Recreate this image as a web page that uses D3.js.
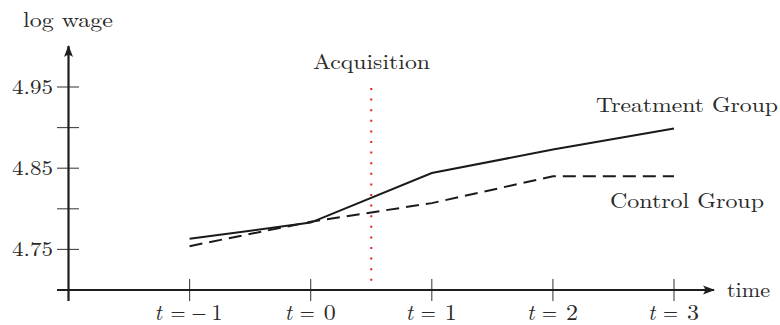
<!DOCTYPE html>
<html><head><meta charset="utf-8">
<script src="https://cdn.jsdelivr.net/npm/d3@7"></script>
<style>
html,body{margin:0;padding:0;background:#fff;}
</style></head>
<body><svg id="c" width="780" height="325"></svg>
<script>
const periods = [-1, 0, 1, 2, 3];
const periodLabels = ["\u22121", "0", "1", "2", "3"];
const treatment = [4.763, 4.783, 4.844, 4.873, 4.899];
const control = [4.754, 4.784, 4.807, 4.840, 4.840];
const yTicksMajor = [4.75, 4.85, 4.95];
const yTicksMinor = [4.80, 4.90];
const eventTime = 0.5;

const FONT = "'Latin Modern Roman','CMU Serif','Liberation Serif','DejaVu Serif',serif";
const svg = d3.select("#c");
const x = d3.scaleLinear().domain([-2, 3]).range([68.5, 674]);
const y = d3.scaleLinear().domain([4.70, 4.95]).range([290, 87]);
const axisCol = "#1e1e1e";
const txtCol = "#2a2a2a";

const defs = svg.append("defs");
defs.append("marker").attr("id","arr").attr("viewBox","0 0 12 10")
  .attr("refX",11).attr("refY",5).attr("markerWidth",12).attr("markerHeight",10)
  .attr("markerUnits","userSpaceOnUse").attr("orient","auto")
  .append("path").attr("d","M0,0.5 Q4,5 0,9.5 L12,5 Z").attr("fill",axisCol);

// tick marks
const tickCol = "#444";
svg.append("g").selectAll("line").data(yTicksMajor.concat(yTicksMinor)).join("line")
  .attr("x1", 57).attr("x2", 79).attr("y1", d => y(d)).attr("y2", d => y(d))
  .attr("stroke", tickCol).attr("stroke-width", 1.1);
svg.append("line").attr("x1",57).attr("x2",68).attr("y1",y(4.70)).attr("y2",y(4.70))
  .attr("stroke",tickCol).attr("stroke-width",1.1);
svg.append("g").selectAll("line").data(periods).join("line")
  .attr("x1", d => x(d)).attr("x2", d => x(d)).attr("y1", 279).attr("y2", 301)
  .attr("stroke", tickCol).attr("stroke-width", 1.1);
svg.append("line").attr("x1",x(-2)).attr("x2",x(-2)).attr("y1",290).attr("y2",301)
  .attr("stroke",tickCol).attr("stroke-width",1.1);

// axes
svg.append("line").attr("x1", 57).attr("x2", 714).attr("y1", y(4.70)).attr("y2", y(4.70))
  .attr("stroke", axisCol).attr("stroke-width", 2.2).attr("marker-end","url(#arr)");
svg.append("line").attr("x1", x(-2)).attr("x2", x(-2)).attr("y1", 301).attr("y2", 46)
  .attr("stroke", axisCol).attr("stroke-width", 2.2).attr("marker-end","url(#arr)");

// event line
svg.append("line").attr("x1", x(eventTime)).attr("x2", x(eventTime))
  .attr("y1", 88).attr("y2", 289)
  .attr("stroke", "#ee1c24").attr("stroke-width", 2).attr("stroke-dasharray","2,8.6");

const line = d3.line().x((d,i) => x(periods[i])).y(d => y(d));
svg.append("path").datum(control).attr("d", line).attr("fill","none")
  .attr("stroke","#1a1a1a").attr("stroke-width",2).attr("stroke-dasharray","13,7");
svg.append("path").datum(treatment).attr("d", line).attr("fill","none")
  .attr("stroke","#1a1a1a").attr("stroke-width",2);

function label(xp, yp, txt, w, anchor) {
  const t = svg.append("text").attr("x", xp).attr("y", yp)
    .attr("font-family", FONT).attr("font-size", 21).attr("fill", txtCol)
    .attr("text-anchor", anchor || "start").text(txt);
  if (w) t.attr("textLength", w).attr("lengthAdjust", "spacingAndGlyphs");
  return t;
}

// y labels
yTicksMajor.forEach(d => label(53, y(d) + 6.5, d.toFixed(2), 41, "end"));

// x labels: "t = n" built from pieces
const xg = svg.append("g").selectAll("g").data(periods).join("g")
  .attr("transform", d => `translate(${x(d)},319.5)`);
xg.each(function(d, i) {
  const g = d3.select(this);
  const neg = periodLabels[i].startsWith("\u2212");
  const pieces = neg
    ? [{s:"t", x0:-35, it:true}, {s:"=", x0:-19, w:15}, {s:"\u2212", x0:2, w:15}, {s:periodLabels[i].slice(1), x0:22, w:11}]
    : [{s:"t", x0:-26, it:true}, {s:"=", x0:-11, w:15}, {s:periodLabels[i], x0:13, w:12}];
  pieces.forEach(p => {
    const t = g.append("text").attr("x", p.x0).attr("y", 0)
      .attr("font-family", FONT).attr("font-size", 22).attr("fill", txtCol)
      .attr("font-style", p.it ? "italic" : "normal").text(p.s);
    if (p.w) t.attr("textLength", p.w).attr("lengthAdjust", "spacingAndGlyphs");
  });
});

label(23, 27, "log wage", 90);
label(727, 297, "time", 43);
label(313, 69, "Acquisition", 117);
label(596, 112, "Treatment Group", 182);
label(610, 208, "Control Group", 154);
</script></body></html>
